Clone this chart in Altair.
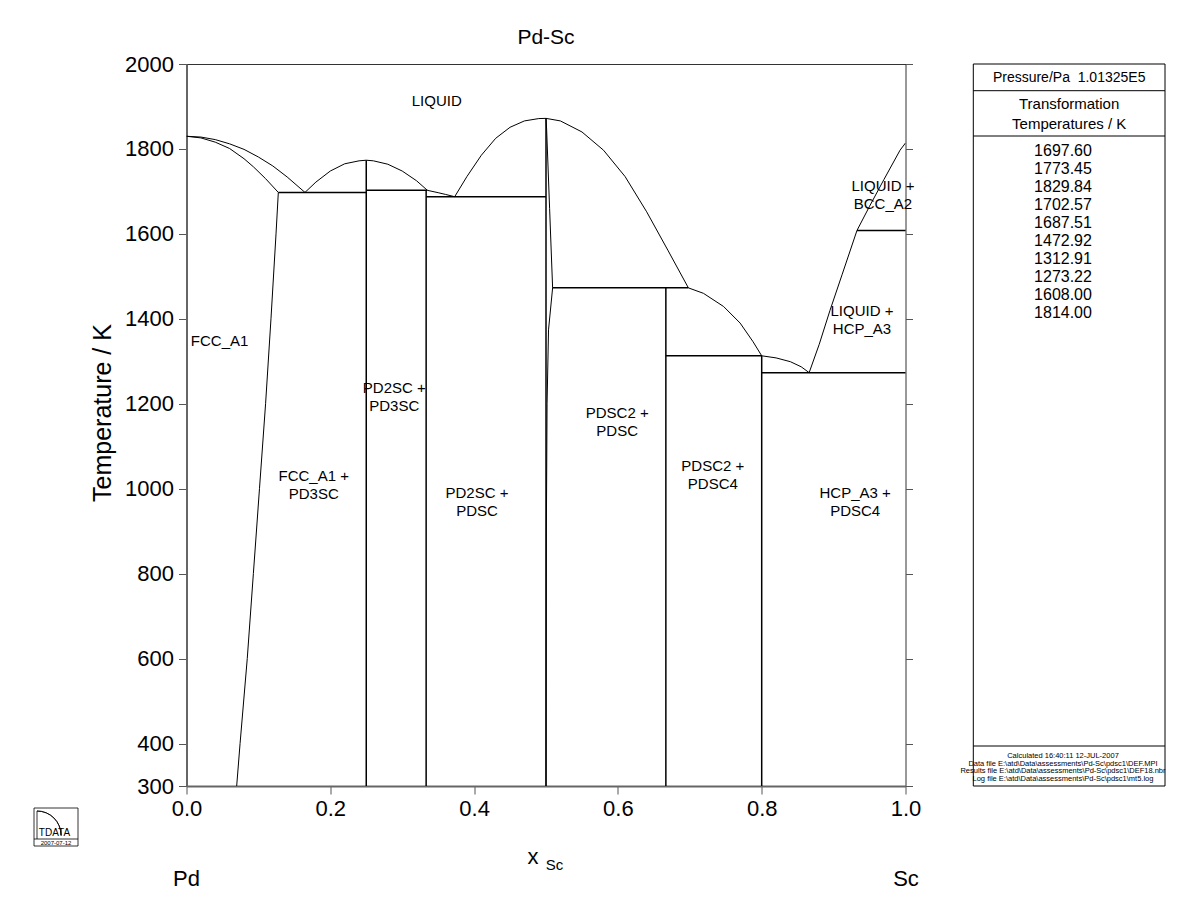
import math
import altair as alt
import pandas as pd

FONT = "Liberation Sans"

# ---------------- data (x_Sc, T / K) ----------------
pd_liq_x = [0.0, 0.02, 0.04, 0.06, 0.08, 0.10, 0.12, 0.14, 0.1648]
pd_liq_t = [1829.84, 1828, 1822, 1812, 1799, 1781, 1760, 1734, 1697.6]

fcc_sol_x = [0.0, 0.02, 0.04, 0.06, 0.08, 0.093, 0.11, 0.1277]
fcc_sol_t = [1829.84, 1826, 1816, 1801, 1777, 1758, 1730, 1697.6]

fcc_solv_x = [0.1277, 0.1245, 0.1175, 0.110, 0.1015, 0.093, 0.0845, 0.0745, 0.0698]
fcc_solv_t = [1697.6, 1600, 1400, 1200, 1000, 800, 600, 400, 300]

pd3sc_liq_x = [0.1648, 0.18, 0.20, 0.22, 0.24, 0.25, 0.26, 0.28, 0.30, 0.32, 0.335, 0.35, 0.36, 0.373]
pd3sc_liq_t = [1697.6, 1722, 1748, 1765, 1772, 1773.45, 1772, 1764, 1748, 1725, 1702.57, 1697, 1693, 1687.51]

pdsc_liq_l_x = [0.373, 0.39, 0.41, 0.43, 0.45, 0.47, 0.49, 0.5]
pdsc_liq_l_t = [1687.51, 1735, 1785, 1825, 1851, 1866, 1871.5, 1872]

pdsc_liq_r_x = [0.5, 0.52, 0.55, 0.58, 0.61, 0.64, 0.67, 0.698]
pdsc_liq_r_t = [1872, 1866, 1840, 1797, 1735, 1652, 1560, 1472.92]

pdsc2_liq_x = [0.698, 0.719, 0.747, 0.770, 0.788, 0.8, 0.82, 0.84, 0.855, 0.866]
pdsc2_liq_t = [1472.92, 1460, 1429, 1390, 1346, 1312.91, 1308, 1299, 1287, 1273.22]

sc_liq_x = [0.866, 0.88, 0.895, 0.912, 0.9325, 0.95, 0.97, 0.9924, 1.0]
sc_liq_t = [1273.22, 1340, 1420, 1505, 1608, 1665, 1728, 1797, 1814]

pdsc_bound_x = [0.5, 0.5009, 0.505, 0.5092, 0.5035, 0.5015, 0.5005, 0.5]
pdsc_bound_t = [1872, 1845, 1660, 1472.92, 1374, 1200, 900, 300]

# invariant (horizontal) lines
inv_t = [1697.60, 1702.57, 1687.51, 1472.92, 1312.91, 1273.22, 1608.00]
inv_x1 = [0.1277, 0.25, 0.3333, 0.5092, 0.6667, 0.8, 0.9325]
inv_x2 = [0.25, 0.335, 0.5, 0.698, 0.8, 1.0, 1.0]

# stoichiometric compounds (vertical lines)
comp_x = [0.25, 0.3333, 0.5, 0.6667, 0.8]
comp_top = [1773.45, 1702.57, 1872, 1472.92, 1312.91]
comp_bot = [300, 300, 300, 300, 300]

# region labels (position = first text line)
lab_text = ["LIQUID", "FCC_A1 +\nPD3SC", "PD2SC +\nPD3SC", "PD2SC +\nPDSC",
            "PDSC2 +\nPDSC", "PDSC2 +\nPDSC4", "HCP_A3 +\nPDSC4",
            "LIQUID +\nHCP_A3", "LIQUID +\nBCC_A2"]
lab_x = [0.348, 0.177, 0.289, 0.404, 0.599, 0.732, 0.93, 0.9395, 0.9686]
lab_t = [1913, 1030, 1237, 990, 1178, 1053, 990, 1418, 1713]

left_lab_text = ["FCC_A1"]
left_lab_x = [0.006]
left_lab_t = [1348]

trans_temps = ["1697.60", "1773.45", "1829.84", "1702.57", "1687.51",
               "1472.92", "1312.91", "1273.22", "1608.00", "1814.00"]

info_lines = ["Calculated  16:40:11  12-JUL-2007",
              "Data file  E:\\atd\\Data\\assessments\\Pd-Sc\\pdsc1\\DEF.MPI",
              "Results file  E:\\atd\\Data\\assessments\\Pd-Sc\\pdsc1\\DEF18.nbr",
              "Log file  E:\\atd\\Data\\assessments\\Pd-Sc\\pdsc1\\mt5.log"]

y_ticks = [300, 400, 600, 800, 1000, 1200, 1400, 1600, 1800, 2000]
x_ticks = [0.0, 0.2, 0.4, 0.6, 0.8, 1.0]

# ---------------- tables ----------------
curves = {
    "pd_liq": (pd_liq_x, pd_liq_t),
    "fcc_sol": (fcc_sol_x, fcc_sol_t),
    "fcc_solv": (fcc_solv_x, fcc_solv_t),
    "pd3sc_liq": (pd3sc_liq_x, pd3sc_liq_t),
    "pdsc_liq_l": (pdsc_liq_l_x, pdsc_liq_l_t),
    "pdsc_liq_r": (pdsc_liq_r_x, pdsc_liq_r_t),
    "pdsc2_liq": (pdsc2_liq_x, pdsc2_liq_t),
    "sc_liq": (sc_liq_x, sc_liq_t),
    "pdsc_bound": (pdsc_bound_x, pdsc_bound_t),
}
rows = []
for name, (xs_, ts_) in curves.items():
    for i, (xv, tv) in enumerate(zip(xs_, ts_)):
        rows.append({"seg": name, "ord": i, "x": xv, "t": tv})
curve_df = pd.DataFrame(rows)
inv_df = pd.DataFrame({"t": inv_t, "x": inv_x1, "x2": inv_x2})
comp_df = pd.DataFrame({"x": comp_x, "t": comp_bot, "t2": comp_top})
lab_df = pd.DataFrame({"label": lab_text, "x": lab_x, "t": lab_t})
left_lab_df = pd.DataFrame({"label": left_lab_text, "x": left_lab_x, "t": left_lab_t})

# ---------------- scales / axes ----------------
xs = alt.Scale(domain=[0, 1], nice=False, zero=False)
ys = alt.Scale(domain=[300, 2000], nice=False, zero=False)
xaxis = alt.Axis(values=x_ticks, format=".1f", title=None, grid=False,
                 labelFontSize=22, labelFont=FONT, labelColor="black",
                 tickSize=8, tickColor="#555", domainColor="#666", domainWidth=2,
                 labelPadding=4, labelFlush=False)
yaxis = alt.Axis(values=y_ticks, format="d", title=None, grid=False,
                 labelFontSize=22, labelFont=FONT, labelColor="black",
                 tickSize=8, tickColor="#555", domainColor="#666", domainWidth=2,
                 labelPadding=5, labelFlush=False)
X = alt.X("x:Q", scale=xs, axis=xaxis)
Y = alt.Y("t:Q", scale=ys, axis=yaxis)

curve_layer = alt.Chart(curve_df).mark_line(color="black", strokeWidth=1, clip=True).encode(
    x=X, y=Y, detail="seg:N", order="ord:Q")
inv_layer = alt.Chart(inv_df).mark_rule(color="black", strokeWidth=1.5).encode(
    x=X, x2="x2:Q", y=Y)
comp_layer = alt.Chart(comp_df).mark_rule(color="black", strokeWidth=1.5).encode(
    x=X, y=Y, y2="t2:Q")
lab_layer = alt.Chart(lab_df).mark_text(font=FONT, fontSize=15, lineBreak="\n",
                                        lineHeight=18, align="center",
                                        baseline="middle", color="black").encode(
    x=X, y=Y, text="label:N")
left_lab_layer = alt.Chart(left_lab_df).mark_text(font=FONT, fontSize=15, align="left",
                                                  baseline="middle", color="black").encode(
    x=X, y=Y, text="label:N")


def txt(s, x, y, size, **kw):
    return alt.Chart(pd.DataFrame({"s": [s]})).mark_text(
        font=FONT, fontSize=size, color="black", **kw).encode(
        text="s:N", x=alt.value(x), y=alt.value(y))


def box(x1, x2, y1, y2, w=1):
    return alt.Chart(pd.DataFrame({"a": [0]})).mark_rect(
        fillOpacity=0, stroke="black", strokeWidth=w).encode(
        x=alt.value(x1), x2=alt.value(x2), y=alt.value(y1), y2=alt.value(y2))


def hline(x1, x2, y, w=1):
    return alt.Chart(pd.DataFrame({"a": [0]})).mark_rule(
        color="black", strokeWidth=w).encode(
        x=alt.value(x1), x2=alt.value(x2), y=alt.value(y))


def vline(x, y1, y2, w=1):
    return alt.Chart(pd.DataFrame({"a": [0]})).mark_rule(
        color="black", strokeWidth=w).encode(
        x=alt.value(x), y=alt.value(y1), y2=alt.value(y2))


# side panel (pixel offsets relative to plot origin)
BL, BR = 786.8, 978.5
side = [
    box(BL, BR, 0, 722),
    hline(BL, BR, 26.7),
    hline(BL, BR, 72),
    hline(BL, BR, 682),
    txt("Pressure/Pa\u00a0\u00a01.01325E5", (BL + BR) / 2, 14, 14),
    txt("Transformation\nTemperatures / K", (BL + BR) / 2, 39.5, 15, lineBreak="\n", lineHeight=20),
    txt("\n".join(trans_temps), 876.5, 86.7, 16, lineBreak="\n", lineHeight=18.07),
    txt("\n".join(info_lines), 876.5, 692, 7.5, lineBreak="\n", lineHeight=7.6),
]

# titles / annotations
annots = [
    txt("Pd-Sc", 359.5, -26, 21),
    txt("Temperature / K", -83.5, 349, 25, angle=270),
    txt("x", 346.5, 793, 22),
    txt("Sc", 368, 801, 15),
    txt("Pd", 0, 815, 22),
    txt("Sc", 719.5, 815, 22),
]

# logo
logo_arc = alt.Chart(pd.DataFrame({"a": [0]})).mark_arc(
    theta=0, theta2=math.pi / 2, radius=24, radius2=24,
    fillOpacity=0, stroke="black", strokeWidth=0.8).encode(
    x=alt.value(-149.5), y=alt.value(771))
logo = [
    box(-152.5, -108.5, 744, 782, 0.8),
    hline(-152.5, -108.5, 775, 0.8),
    vline(-149.5, 747, 775, 0.8),
    logo_arc,
    txt("TDATA", -132, 769, 10),
    txt("2007-07-12", -130.5, 778.5, 6),
]

inner = alt.layer(curve_layer, inv_layer, comp_layer, lab_layer, left_lab_layer,
                  *side, *annots, *logo)

right_axis = alt.Chart(pd.DataFrame({"x": [0, 1], "t": [300, 2000]})).mark_point(opacity=0).encode(
    x=X,
    y=alt.Y("t:Q", scale=ys, axis=alt.Axis(orient="right", values=y_ticks, labels=False,
                                            title=None, grid=False, domain=False,
                                            tickSize=7, tickColor="#555")))

chart = alt.layer(inner, right_axis).resolve_scale(y="independent").properties(
    width=719, height=722,
    autosize=alt.AutoSizeParams(type="none"),
    padding={"left": 178.5, "top": 56, "right": 286, "bottom": 120},
).configure_view(stroke="#333", strokeWidth=1)

chart.save("out.html", embed_options={"renderer": "svg", "actions": False})
